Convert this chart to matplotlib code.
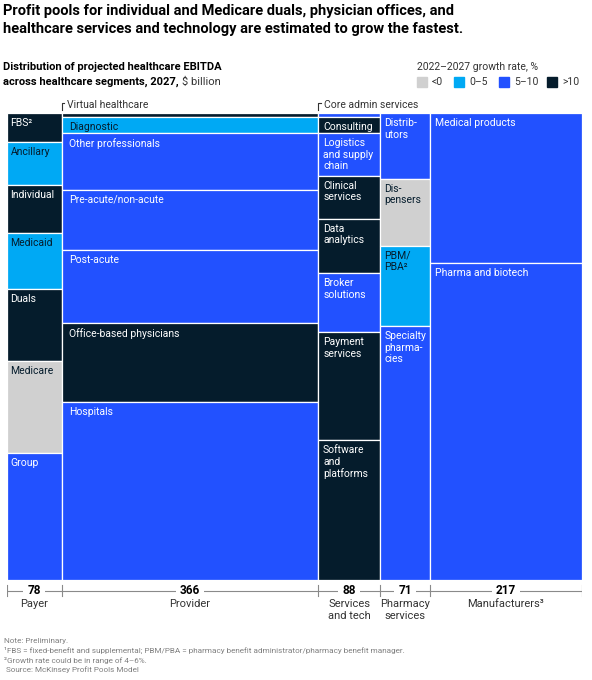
import matplotlib
matplotlib.use("Agg")
import numpy as np
import matplotlib.pyplot as plt

plt.rcParams['font.family'] = ['Roboto', 'DejaVu Sans']

# Growth-rate colour classes
DARK = '#051C2C'   # >10
BLUE = '#2251FF'   # 5-10
CYAN = '#00A9F4'   # 0-5
GREY = '#D0D0D0'   # <0

# Column totals, $ billion (2027 EBITDA)
segments = ['Payer', 'Provider', 'Services\nand tech', 'Pharmacy\nservices', 'Manufacturers³']
totals = [78, 366, 88, 71, 217]

# Sub-segments per column (top to bottom), estimated $ billion
payer_names = ['FBS²', 'Ancillary', 'Individual', 'Medicaid', 'Duals', 'Medicare', 'Group']
payer_values = [4.8, 7.2, 8.0, 9.4, 12.0, 15.4, 21.2]
payer_colors = [DARK, CYAN, DARK, CYAN, DARK, GREY, BLUE]

provider_names = ['', 'Diagnostic', 'Other professionals', 'Pre-acute/non-acute', 'Post-acute',
                  'Office-based physicians', 'Hospitals']
provider_values = [3.1, 12.5, 44.7, 47.0, 57.2, 61.9, 139.6]
provider_colors = [DARK, CYAN, BLUE, BLUE, BLUE, DARK, BLUE]

services_names = ['', 'Consulting', 'Logistics\nand supply\nchain', 'Clinical\nservices', 'Data\nanalytics',
                  'Broker\nsolutions', 'Payment\nservices', 'Software\nand\nplatforms']
services_values = [0.75, 3.0, 8.1, 8.1, 10.2, 11.1, 20.4, 26.35]
services_colors = [BLUE, DARK, BLUE, DARK, DARK, BLUE, DARK, DARK]

pharmacy_names = ['Distrib-\nutors', 'Dis-\npensers', 'PBM/\nPBA²', 'Specialty\npharma-\ncies']
pharmacy_values = [10.0, 10.2, 12.2, 38.6]
pharmacy_colors = [BLUE, GREY, CYAN, BLUE]

manufacturers_names = ['Medical products', 'Pharma and biotech']
manufacturers_values = [69.7, 147.3]
manufacturers_colors = [BLUE, BLUE]

legend_labels = ['<0', '0–5', '5–10', '>10']
legend_colors = [GREY, CYAN, BLUE, DARK]

columns = [
    (payer_names, payer_values, payer_colors, 2.6),
    (provider_names, provider_values, provider_colors, 5.5),
    (services_names, services_values, services_colors, 3.4),
    (pharmacy_names, pharmacy_values, pharmacy_colors, 3.0),
    (manufacturers_names, manufacturers_values, manufacturers_colors, 3.4),
]

W, H = 592, 680
fig = plt.figure(figsize=(W / 100, H / 100), dpi=100)


def fx(px):
    return px / W


def fy(py):
    return 1 - py / H


ax = fig.add_axes([fx(7), fy(580), fx(582) - fx(7), fy(113) - fy(580)])
ax.set_xlim(0, sum(totals))
ax.set_ylim(1, 0)
ax.axis('off')

lefts = np.concatenate([[0], np.cumsum(totals)[:-1]])

for left, total, (names, values, colors, padx) in zip(lefts, totals, columns):
    frac = np.array(values) / total
    bottoms = np.concatenate([[0], np.cumsum(frac)[:-1]])
    ax.bar(left, frac, width=total, bottom=bottoms, color=colors, align='edge',
           edgecolor='white', linewidth=0.9)
    for name, b, c in zip(names, bottoms, colors):
        if not name:
            continue
        tc = DARK if c in (CYAN, GREY) else 'white'
        ax.annotate(name, xy=(left, b), xytext=(padx, -3.6), textcoords='offset points',
                    ha='left', va='top', fontsize=7.5, color=tc, linespacing=1.2)

# bracket labels above the thin strips
for left, label in [(lefts[1], 'Virtual healthcare'), (lefts[2], 'Core admin services')]:
    ax.plot([left, left, left + 3.5], [-0.007, -0.022, -0.022], color='#333333',
            lw=0.8, clip_on=False)
    ax.annotate(label, xy=(left, -0.018), xytext=(4.0, 0), textcoords='offset points',
                ha='left', va='center', fontsize=7.5, color='#333333', annotation_clip=False)

# bottom scale with column totals
axb = fig.add_axes([fx(7), fy(600), fx(582) - fx(7), fy(582) - fy(600)])
axb.set_xlim(0, sum(totals))
axb.set_ylim(0, 1)
axb.axis('off')
axb.plot([0, sum(totals)], [0.5, 0.5], color='#8a8a8a', lw=0.8)
edges = np.concatenate([[0], np.cumsum(totals)])
for e in edges:
    axb.plot([e, e], [0.2, 0.85], color='#8a8a8a', lw=0.8)
centers = lefts + np.array(totals) / 2
for c, t, s in zip(centers, totals, segments):
    axb.text(c, 0.5, str(t), ha='center', va='center', fontsize=8.5, weight='bold',
             color='black', bbox=dict(boxstyle='square,pad=0.35', fc='white', ec='none'))
    fig.text(fx(7) + (fx(582) - fx(7)) * c / sum(totals), fy(599), s, ha='center', va='top',
             fontsize=8, color='#333333', linespacing=1.2)

# titles
fig.text(fx(3), fy(4),
         'Profit pools for individual and Medicare duals, physician offices, and\n'
         'healthcare services and technology are estimated to grow the fastest.',
         ha='left', va='top', fontsize=10.5, weight='bold', color='black', linespacing=1.32)
fig.text(fx(3), fy(62), 'Distribution of projected healthcare EBITDA',
         ha='left', va='top', fontsize=8, weight='bold', color='black')
sub2 = fig.text(fx(3), fy(77), 'across healthcare segments, 2027,',
                ha='left', va='top', fontsize=8, weight='bold', color='black')
fig.canvas.draw()
bb = sub2.get_window_extent(fig.canvas.get_renderer())
fig.text(bb.x1 / W + fx(3), fy(77), '$ billion', ha='left', va='top', fontsize=8,
         color='#333333')

# legend
fig.text(fx(417), fy(67), '2022–2027 growth rate, %', ha='left', va='center',
         fontsize=7.5, color='#333333')
leg_x = [417, 454, 499, 547]
for x0, lab, col in zip(leg_x, legend_labels, legend_colors):
    fig.patches.append(plt.Rectangle((fx(x0), fy(87)), fx(10), 10 / H, color=col,
                                     transform=fig.transFigure, figure=fig))
    fig.text(fx(x0 + 15), fy(82), lab, ha='left', va='center', fontsize=7.5, color='#333333')

# footnotes
notes = ['Note: Preliminary.',
         '¹FBS = fixed-benefit and supplemental; PBM/PBA = pharmacy benefit administrator/pharmacy benefit manager.',
         '²Growth rate could be in range of 4–6%.',
         ' Source: McKinsey Profit Pools Model']
for i, n in enumerate(notes):
    fig.text(fx(4), fy(641 + i * 9.5), n, ha='left', va='center', fontsize=5.9, color='#808080')

fig.savefig('out.png', dpi=100)
